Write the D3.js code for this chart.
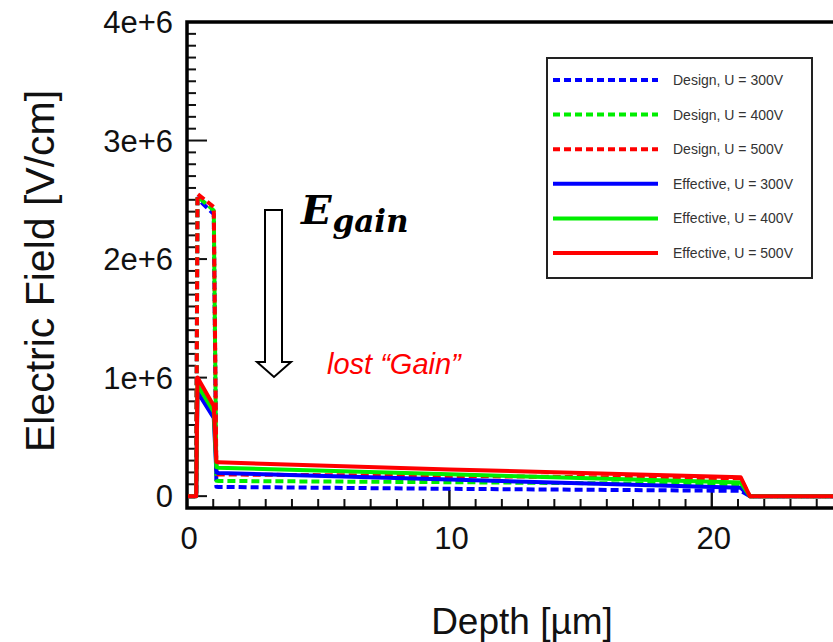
<!DOCTYPE html>
<html>
<head>
<meta charset="utf-8">
<script src="https://cdn.jsdelivr.net/npm/d3@7"></script>
<style>
  html, body { margin: 0; padding: 0; background: #fff; }
  svg { display: block; }
</style>
</head>
<body>
<svg id="chart" width="833" height="642"></svg>
<script>
// Depth profile points (µm) shared by all field curves
const depth = [0, 0.35, 0.4, 1.02, 1.12, 1.2, 10, 21.1, 21.45, 30];

// Electric field [V/cm] along the profile
const design300    = [0, 0, 2.51e6, 2.38e6, 0.08e6, 0.078e6, 0.062e6, 0.045e6, 0, 0];
const design400    = [0, 0, 2.53e6, 2.41e6, 0.13e6, 0.128e6, 0.118e6, 0.10e6, 0, 0];
const design500    = [0, 0, 2.55e6, 2.44e6, 0.185e6, 0.183e6, 0.17e6, 0.15e6, 0, 0];
const effective300 = [0, 0, 0.88e6, 0.66e6, 0.20e6, 0.195e6, 0.14e6, 0.07e6, 0, 0];
const effective400 = [0, 0, 0.94e6, 0.71e6, 0.245e6, 0.24e6, 0.185e6, 0.115e6, 0, 0];
const effective500 = [0, 0, 1.00e6, 0.76e6, 0.29e6, 0.285e6, 0.225e6, 0.16e6, 0, 0];

const seriesNames = ["Design, U = 300V", "Design, U = 400V", "Design, U = 500V",
                     "Effective, U = 300V", "Effective, U = 400V", "Effective, U = 500V"];
const seriesValues = [design300, design400, design500, effective300, effective400, effective500];
const seriesColors = ["#0000ff", "#00ee00", "#ff0000", "#0000ff", "#00ee00", "#ff0000"];
const seriesDashed = [true, true, true, false, false, false];

const yTickValues = [0, 1e6, 2e6, 3e6, 4e6];
const yTickLabels = ["0", "1e+6", "2e+6", "3e+6", "4e+6"];
const xTickValues = [0, 10, 20];
const xTickLabels = ["0", "10", "20"];

const svg = d3.select("#chart");

const x = d3.scaleLinear().domain([0, 24.62]).range([187, 833]);
const y = d3.scaleLinear().domain([-1e5, 4e6]).range([508, 22]);

svg.append("defs").append("clipPath").attr("id", "plotClip")
  .append("rect").attr("x", 188).attr("y", 22).attr("width", 700).attr("height", 485);

// minor + major ticks pointing into the plot
const minorY = d3.range(0, 4e6 + 1, 1e5);
const minorX = d3.range(1, 25, 1);

const axisG = svg.append("g");
axisG.selectAll("line.ymin").data(minorY).join("line")
  .attr("x1", 187).attr("x2", d => yTickValues.includes(d) ? 207 : 196)
  .attr("y1", d => y(d)).attr("y2", d => y(d))
  .attr("stroke", "#111").attr("stroke-width", 2);
axisG.selectAll("line.xmin").data(minorX.concat(xTickValues)).join("line")
  .attr("y1", 508).attr("y2", d => xTickValues.includes(d) ? 490 : 499)
  .attr("x1", d => x(d)).attr("x2", d => x(d))
  .attr("stroke", "#111").attr("stroke-width", 2);

// field curves
const line = d3.line().x(d => x(d[0])).y(d => y(d[1]));
const plotG = svg.append("g").attr("clip-path", "url(#plotClip)");
seriesValues.forEach((vals, i) => {
  plotG.append("path")
    .datum(depth.map((d, k) => [d, vals[k]]))
    .attr("d", line)
    .attr("fill", "none")
    .attr("stroke", seriesColors[i])
    .attr("stroke-width", 4)
    .attr("stroke-linejoin", "round")
    .attr("stroke-dasharray", seriesDashed[i] ? "8,4" : null);
});

// frame: left, bottom and top edges
axisG.append("path")
  .attr("d", `M${x.range()[1] + 5},22 H187 V508 H${x.range()[1] + 5}`)
  .attr("fill", "none").attr("stroke", "#000").attr("stroke-width", 3.5);

// tick labels
svg.selectAll("text.ylab").data(yTickValues).join("text")
  .attr("x", 173).attr("y", d => y(d) + 11)
  .attr("text-anchor", "end")
  .attr("font-family", "Liberation Sans, Arial, sans-serif")
  .attr("font-size", 31).attr("fill", "#111")
  .text((d, i) => yTickLabels[i]);
svg.selectAll("text.xlab").data(xTickValues).join("text")
  .attr("x", d => x(d) + 2).attr("y", 549)
  .attr("text-anchor", "middle")
  .attr("font-family", "Liberation Sans, Arial, sans-serif")
  .attr("font-size", 31).attr("fill", "#111")
  .text((d, i) => xTickLabels[i]);

// axis titles
svg.append("text")
  .attr("transform", "translate(54,271) rotate(-90)")
  .attr("text-anchor", "middle")
  .attr("font-family", "Liberation Sans, Arial, sans-serif")
  .attr("font-size", 41).attr("fill", "#111")
  .text("Electric Field [V/cm]");
svg.append("text")
  .attr("x", 522).attr("y", 634)
  .attr("text-anchor", "middle")
  .attr("font-family", "Liberation Sans, Arial, sans-serif")
  .attr("font-size", 37).attr("fill", "#111")
  .text("Depth [µm]");

// legend
const legend = svg.append("g");
legend.append("rect")
  .attr("x", 547).attr("y", 58).attr("width", 265).attr("height", 220)
  .attr("fill", "#fff").attr("stroke", "#222").attr("stroke-width", 2);
seriesNames.forEach((name, i) => {
  const ly = 80 + i * 34.6;
  legend.append("line")
    .attr("x1", 553).attr("x2", 658).attr("y1", ly).attr("y2", ly)
    .attr("stroke", seriesColors[i]).attr("stroke-width", 4)
    .attr("stroke-dasharray", seriesDashed[i] ? "7,4" : null);
  legend.append("text")
    .attr("x", 673).attr("y", ly + 5)
    .attr("font-family", "Liberation Sans, Arial, sans-serif")
    .attr("font-size", 14).attr("fill", "#333")
    .text(name);
});

// hollow downward arrow marking the gain-layer field drop
svg.append("polygon")
  .attr("points", "265,210 282,210 282,362 291,362 274,377 257,362 265,362")
  .attr("fill", "#fff").attr("stroke", "#000").attr("stroke-width", 2);

const eg = svg.append("text")
  .attr("x", 301).attr("y", 224)
  .attr("font-family", "DejaVu Serif, serif")
  .attr("font-weight", "bold").attr("font-style", "italic")
  .attr("fill", "#000");
eg.append("tspan").attr("font-size", 40).text("E");
eg.append("tspan").attr("font-size", 31).attr("dy", 8).attr("dx", 1).text("gain");

svg.append("text")
  .attr("x", 327).attr("y", 374)
  .attr("font-family", "Liberation Sans, Arial, sans-serif")
  .attr("font-style", "italic")
  .attr("font-size", 29).attr("fill", "#ff0000")
  .text("lost “Gain”");
</script>
</body>
</html>
